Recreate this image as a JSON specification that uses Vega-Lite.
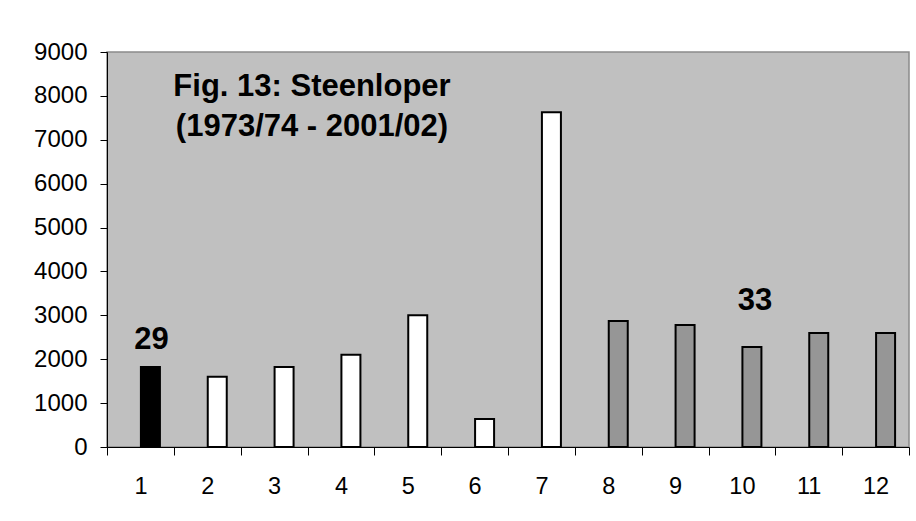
{
  "$schema": "https://vega.github.io/schema/vega-lite/v6.json",
  "width": 802,
  "height": 395,
  "autosize": {"type": "none"},
  "padding": {"left": 107, "top": 52, "right": 7, "bottom": 74},
  "background": "white",
  "config": {
    "font": "Liberation Sans",
    "view": {"fill": "#C0C0C0", "stroke": "#8a8a8a", "strokeWidth": 1.5}
  },
  "title": {
    "text": ["Fig. 13: Steenloper", "(1973/74 - 2001/02)"],
    "anchor": "start",
    "frame": "group",
    "align": "center",
    "baseline": "top",
    "dx": 205,
    "offset": -103,
    "fontSize": 31,
    "fontWeight": "bold",
    "lineHeight": 40,
    "color": "black",
    "font": "Liberation Sans"
  },
  "data": {
    "values": [
      {"cat": 1, "value": 1820, "series": "A"},
      {"cat": 2, "value": 1600, "series": "B"},
      {"cat": 3, "value": 1820, "series": "B"},
      {"cat": 4, "value": 2100, "series": "B"},
      {"cat": 5, "value": 3000, "series": "B"},
      {"cat": 6, "value": 640, "series": "B"},
      {"cat": 7, "value": 7630, "series": "B"},
      {"cat": 8, "value": 2870, "series": "C"},
      {"cat": 9, "value": 2780, "series": "C"},
      {"cat": 10, "value": 2280, "series": "C"},
      {"cat": 11, "value": 2600, "series": "C"},
      {"cat": 12, "value": 2600, "series": "C"}
    ]
  },
  "encoding": {
    "x": {
      "field": "cat",
      "type": "ordinal",
      "scale": {"paddingInner": 0, "paddingOuter": 0},
      "axis": {
        "title": null,
        "labelAngle": 0,
        "tickBand": "extent",
        "tickSize": 8,
        "tickColor": "black",
        "domainColor": "black",
        "labelFontSize": 23.5,
        "labelColor": "black",
        "labelPadding": 19,
        "labelFont": "Liberation Sans"
      }
    },
    "y": {
      "field": "value",
      "type": "quantitative",
      "scale": {"domain": [0, 9000], "nice": false},
      "axis": {
        "title": null,
        "grid": false,
        "format": "d",
        "values": [0, 1000, 2000, 3000, 4000, 5000, 6000, 7000, 8000, 9000],
        "tickSize": 7,
        "tickColor": "black",
        "domainColor": "black",
        "labelFontSize": 24,
        "labelColor": "black",
        "labelPadding": 13,
        "labelFont": "Liberation Sans"
      }
    }
  },
  "layer": [
    {
      "mark": {"type": "bar", "width": 19, "xOffset": 10, "stroke": "black", "strokeWidth": 2},
      "encoding": {
        "fill": {
          "field": "series",
          "type": "nominal",
          "scale": {"domain": ["A", "B", "C"], "range": ["#000000", "#FFFFFF", "#969696"]},
          "legend": null
        }
      }
    },
    {
      "transform": [{"filter": "datum.cat == 1"}],
      "mark": {"type": "text", "dx": 11, "dy": -18, "baseline": "alphabetic", "fontSize": 31, "fontWeight": "bold", "color": "black"},
      "encoding": {"text": {"value": "29"}}
    },
    {
      "transform": [{"filter": "datum.cat == 10"}],
      "mark": {"type": "text", "dx": 13, "dy": -37, "baseline": "alphabetic", "fontSize": 31, "fontWeight": "bold", "color": "black"},
      "encoding": {"text": {"value": "33"}}
    }
  ]
}
